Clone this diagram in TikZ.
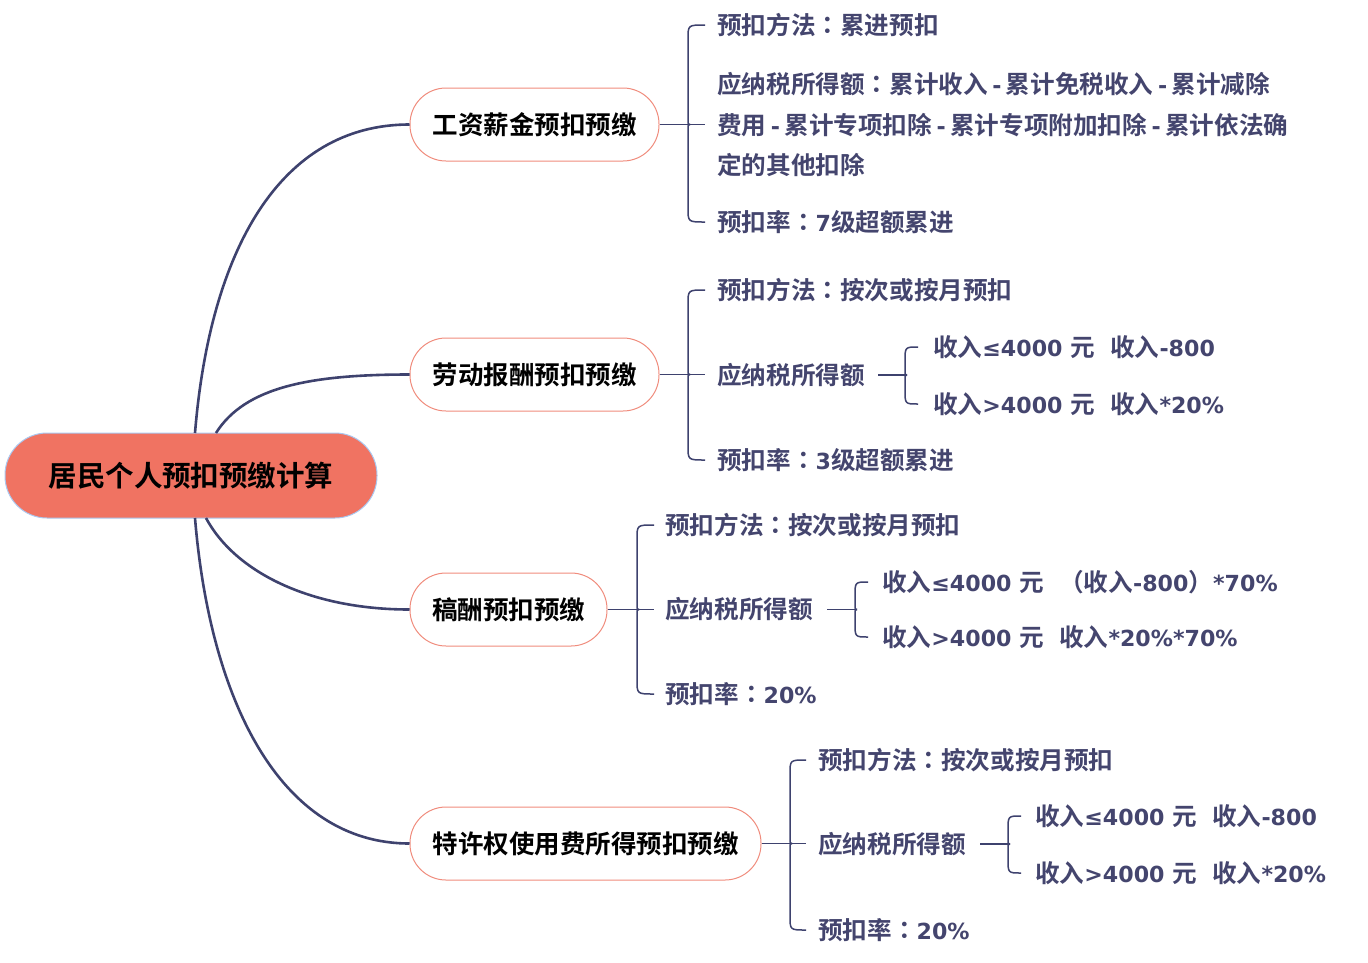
\documentclass[tikz,border=0pt]{standalone}
\usepackage{fontspec}
\setmainfont{Noto Sans CJK SC}[BoldFont={Noto Sans CJK SC Bold}]
\newfontfamily\tcf{Noto Sans CJK TC}[BoldFont={Noto Sans CJK TC Bold}]
\newfontfamily\latf{DejaVu Sans}[Scale=0.9]
\newcommand{\lt}[1]{{\latf #1}}
\newcommand{\cn}{{\tcf ：}}
\newcommand{\hy}{\kern4.5pt\lt{-}\kern4.5pt}
\usetikzlibrary{calc}
\definecolor{txtc}{RGB}{68,69,110}
\definecolor{linec}{RGB}{62,66,110}
\definecolor{rootfill}{RGB}{240,115,98}
\definecolor{rootborder}{RGB}{170,200,240}
\definecolor{branchborder}{RGB}{240,140,125}
\tikzset{
  rootnode/.style={draw=rootborder, line width=1pt, fill=rootfill, rounded corners=42pt,
    minimum height=85pt, inner sep=0pt, font=\fontsize{28.5}{30}\selectfont\bfseries, text=black},
  branchnode/.style={draw=branchborder, line width=1pt, fill=white, rounded corners=36pt,
    minimum height=73pt, inner sep=0pt, font=\fontsize{25.5}{27}\selectfont\bfseries, text=black},
  leaf/.style={anchor=west, inner sep=0pt, font=\fontsize{24.6}{40.5}\selectfont\bfseries, text=txtc, align=left},
  conn/.style={draw=linec, line width=2.6pt},
  brk/.style={draw=linec, line width=1.5pt},
}
\newcommand{\mybrace}[5]{% xb, xe, yt, ym, yb
  \draw[brk] (#2,#3) .. controls (#1,#3) .. (#1,#3+14) -- (#1,#4-6) .. controls (#1,#4) .. (#1+2,#4);
  \draw[brk] (#2,#5) .. controls (#1,#5) .. (#1,#5-14) -- (#1,#4+6) .. controls (#1,#4) .. (#1+2,#4);
}
\begin{document}
\begin{tikzpicture}[x=1pt,y=-1pt]
\useasboundingbox (0,0) rectangle (1368,962);

% root and branches
\node[rootnode, minimum width=372pt] (root) at (191,475.5) {居民个人预扣预缴计算};
\node[branchnode, minimum width=249pt] (b1) at (534.5,124.5) {工资薪金预扣预缴};
\node[branchnode, minimum width=249pt] (b2) at (534.5,374.5) {劳动报酬预扣预缴};
\node[branchnode, minimum width=197pt] (b3) at (508.5,609.5) {稿酬预扣预缴};
\node[branchnode, minimum width=351pt] (b4) at (585.5,843.5) {特许权使用费所得预扣预缴};

\coordinate (r1) at (195,433);
\coordinate (r2) at (216,433);
\coordinate (r3) at (206,518);
\coordinate (r4) at (195,518);
\draw[conn] (r1) .. controls (210,250) and (280,124.5) .. (b1.west);
\draw[conn] (r2) .. controls (245,387) and (310,374.5) .. (b2.west);
\draw[conn] (r3) .. controls (235,572) and (310,609.5) .. (b3.west);
\draw[conn] (r4) .. controls (210,700) and (280,843.5) .. (b4.west);

% ---- branch 1
\node[leaf] (a1) at (717,25) {预扣方法\cn 累进预扣};
\node[leaf] (a2) at (717,125) {应纳税所得额\cn 累计收入\hy 累计免税收入\hy 累计减除\\费用\hy 累计专项扣除\hy 累计专项附加扣除\hy 累计依法确\\定的其他扣除};
\node[leaf] (a3) at (717,222) {预扣率\cn\lt{7}级超额累进};
\coordinate (k1) at (705,124.5);
\draw[brk] (b1.east) -- (k1);
\mybrace{688}{705}{25}{124.5}{222}

% ---- branch 2
\node[leaf] (c1) at (717,290) {预扣方法\cn 按次或按月预扣};
\node[leaf] (c2) at (717,375) {应纳税所得额};
\node[leaf] (c3) at (717,460) {预扣率\cn\lt{3}级超额累进};
\coordinate (k2) at (705,374.5);
\draw[brk] (b2.east) -- (k2);
\mybrace{688}{705}{290}{374.5}{460}
\node[leaf] (c21) at (933,347) {收入\lt{≤4000 }元\lt{\ \ }收入\lt{-800}};
\node[leaf] (c22) at (933,404) {收入\lt{>4000 }元\lt{\ \ }收入\lt{*20\%}};
\coordinate (k2a) at (878,375);
\coordinate (k2b) at (906,375);
\draw[brk] (k2a) -- (k2b);
\mybrace{905}{918}{347}{375}{404}

% ---- branch 3
\node[leaf] (d1) at (665,525) {预扣方法\cn 按次或按月预扣};
\node[leaf] (d2) at (665,609) {应纳税所得额};
\node[leaf] (d3) at (665,694) {预扣率\cn\lt{20\%}};
\coordinate (k3) at (654,609.5);
\draw[brk] (b3.east) -- (k3);
\mybrace{637}{654}{525}{609.5}{694}
\node[leaf] (d21) at (882,582) {收入\lt{≤4000 }元\lt{\ \ }{\tcf （}收入\lt{-800}{\tcf ）}\lt{*70\%}};
\node[leaf] (d22) at (882,637) {收入\lt{>4000 }元\lt{\ \ }收入\lt{*20\%*70\%}};
\coordinate (k3a) at (827,609.5);
\coordinate (k3b) at (856,609.5);
\draw[brk] (k3a) -- (k3b);
\mybrace{855}{868}{582}{609.5}{637}

% ---- branch 4
\node[leaf] (e1) at (818,760) {预扣方法\cn 按次或按月预扣};
\node[leaf] (e2) at (818,844) {应纳税所得额};
\node[leaf] (e3) at (818,930) {预扣率\cn\lt{20\%}};
\coordinate (k4) at (806,843.5);
\draw[brk] (b4.east) -- (k4);
\mybrace{790}{806}{760}{843.5}{930}
\node[leaf] (e21) at (1035,816) {收入\lt{≤4000 }元\lt{\ \ }收入\lt{-800}};
\node[leaf] (e22) at (1035,873) {收入\lt{>4000 }元\lt{\ \ }收入\lt{*20\%}};
\coordinate (k4a) at (980,844);
\coordinate (k4b) at (1009,844);
\draw[brk] (k4a) -- (k4b);
\mybrace{1008}{1021}{816}{844}{873}
\end{tikzpicture}
\end{document}
